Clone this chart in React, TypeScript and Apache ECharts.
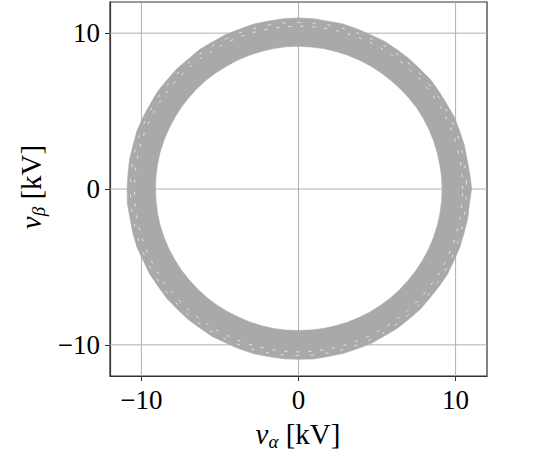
import { useEffect, useRef } from "react";
import * as echarts from "echarts";

// Axis extent and tick positions (kV)
const AXIS_MIN = -12;
const AXIS_MAX = 12;
const TICK_VALUES = [-10, 0, 10];

// Outer boundary of the trajectory band, radius (kV) every 5 degrees starting at 0°
const OUTER_STEP_DEG = 5;
const OUTER_RADIUS = [
  11.02, 10.95, 10.9, 10.93, 10.91, 10.94, 10.9, 10.92, 10.95, 10.91, 10.93, 10.92,
  10.95, 10.91, 10.93, 10.96, 10.93, 10.97, 10.98, 10.97, 10.94, 10.96, 10.92, 10.94,
  10.91, 10.94, 10.9, 10.93, 10.91, 10.94, 10.9, 10.92, 10.94, 10.9, 10.92, 10.9,
  10.91, 10.93, 10.89, 10.92, 10.94, 10.9, 10.93, 10.9, 10.94, 10.91, 10.93, 10.91,
  10.94, 10.91, 10.93, 10.95, 10.92, 10.94, 10.93, 10.95, 10.91, 10.93, 10.91, 10.94,
  10.9, 10.93, 10.91, 10.94, 10.9, 10.92, 10.95, 10.91, 10.93, 10.91, 10.94, 10.92,
];

// Inner boundary of the band, radius (kV) every 5 degrees starting at 0°
const INNER_STEP_DEG = 5;
const INNER_RADIUS = [
  9.14, 9.14, 9.13, 9.13, 9.14, 9.14, 9.15, 9.15, 9.13, 9.13, 9.12, 9.12,
  9.13, 9.13, 9.14, 9.14, 9.15, 9.15, 9.16, 9.16, 9.15, 9.14, 9.13, 9.13,
  9.12, 9.12, 9.13, 9.13, 9.12, 9.12, 9.11, 9.11, 9.12, 9.12, 9.11, 9.11,
  9.1, 9.1, 9.11, 9.11, 9.1, 9.1, 9.09, 9.09, 9.08, 9.08, 9.08, 9.08,
  9.07, 9.07, 9.08, 9.08, 9.09, 9.09, 9.08, 9.08, 9.09, 9.09, 9.1, 9.1,
  9.11, 9.11, 9.12, 9.12, 9.12, 9.12, 9.13, 9.13, 9.14, 9.14, 9.14, 9.14,
];

// Faint gaps between overlapping trajectories (radius, kV)
const STREAK_RADII = [10.45, 10.7];
const STREAK_STEP_DEG = 5;
const STREAK_COUNT = 73;

const RING_COLOR = "#a9a9a9";
const GRID_COLOR = "#b0b0b0";
const SPINE_COLOR = "#333333";
const FONT = "Liberation Serif";

function polar(r: number, deg: number): [number, number] {
  const a = (deg * Math.PI) / 180;
  return [r * Math.cos(a), r * Math.sin(a)];
}

function fmt(v: number): string {
  return v < 0 ? "\u2212" + Math.abs(v) : String(v);
}

export default function App() {
  const ref = useRef<HTMLDivElement>(null);

  useEffect(() => {
    if (!ref.current) return;
    const chart = echarts.init(ref.current, undefined, { renderer: "svg" });

    const renderItem = (_params: any, api: any) => {
      const children: any[] = [];
      TICK_VALUES.forEach((t) => {
        const a = api.coord([t, AXIS_MIN]);
        const b = api.coord([t, AXIS_MAX]);
        children.push({
          type: "line",
          shape: { x1: a[0], y1: a[1], x2: b[0], y2: b[1] },
          style: { stroke: GRID_COLOR, lineWidth: 1 },
        });
        const c = api.coord([AXIS_MIN, t]);
        const d = api.coord([AXIS_MAX, t]);
        children.push({
          type: "line",
          shape: { x1: c[0], y1: c[1], x2: d[0], y2: d[1] },
          style: { stroke: GRID_COLOR, lineWidth: 1 },
        });
      });
      const outer = OUTER_RADIUS.map((r, i) => api.coord(polar(r, i * OUTER_STEP_DEG)));
      const inner = INNER_RADIUS.map((r, i) => api.coord(polar(r, i * INNER_STEP_DEG))).reverse();
      const seg = (pts: number[][]) =>
        "M" + pts.map((p) => p[0].toFixed(2) + " " + p[1].toFixed(2)).join(" L") + " Z";
      children.push({
        type: "path",
        shape: { pathData: seg(outer) + " " + seg(inner) },
        style: { fill: RING_COLOR, stroke: RING_COLOR, lineWidth: 0.6 },
      });
      STREAK_RADII.forEach((r, k) => {
        const pts: number[][] = [];
        for (let i = 0; i < STREAK_COUNT; i++) pts.push(api.coord(polar(r, i * STREAK_STEP_DEG + k * 2)));
        children.push({
          type: "polyline",
          shape: { points: pts },
          style: {
            stroke: "#f2f2f2",
            lineWidth: 0.8,
            fill: "none",
            lineDash: [3, 9 + k * 3],
            opacity: 1,
          },
        });
      });
      return { type: "group", children };
    };

    const axisCommon = {
      type: "value" as const,
      min: AXIS_MIN,
      max: AXIS_MAX,
      splitNumber: 2,
      splitLine: { show: false },
      axisLine: { show: true, onZero: false, lineStyle: { color: SPINE_COLOR, width: 1.2 } },
      axisTick: {
        show: true,
        inside: false,
        length: 5,
        customValues: TICK_VALUES,
        lineStyle: { color: SPINE_COLOR, width: 1 },
      },
      axisLabel: {
        customValues: TICK_VALUES,
        formatter: (v: number) => fmt(v),
        fontFamily: FONT,
        fontSize: 27,
        color: "#000",
        margin: 10,
      },
    };

    const richBase = {
      v: { fontFamily: FONT, fontStyle: "italic", fontSize: 29, lineHeight: 34, fill: "#000" },
      s: {
        fontFamily: FONT,
        fontStyle: "italic",
        fontSize: 19,
        lineHeight: 20,
        verticalAlign: "bottom",
        fill: "#000",
      },
      n: { fontFamily: FONT, fontSize: 29, lineHeight: 34, fill: "#000" },
    };

    chart.setOption({
      animation: false,
      backgroundColor: "#ffffff",
      grid: {
        left: 110,
        right: 56,
        top: 2,
        bottom: 80,
        show: true,
        borderColor: SPINE_COLOR,
        borderWidth: 1.2,
        backgroundColor: "transparent",
      },
      xAxis: { ...axisCommon },
      yAxis: { ...axisCommon },
      series: [
        {
          type: "custom",
          coordinateSystem: "cartesian2d",
          silent: true,
          data: [[0, 0]],
          renderItem,
        },
      ],
      graphic: [
        {
          type: "text",
          x: 298,
          y: 434,
          style: {
            text: "{v|v}{s|\u03b1}{n| [kV]}",
            align: "center",
            verticalAlign: "middle",
            rich: richBase,
          },
        },
        {
          type: "text",
          x: 31,
          y: 187,
          rotation: Math.PI / 2,
          style: {
            text: "{v|v}{s|\u03b2}{n| [kV]}",
            align: "center",
            verticalAlign: "middle",
            rich: richBase,
          },
        },
      ],
    });

    return () => chart.dispose();
  }, []);

  return (
    <div
      ref={ref}
      style={{ position: "fixed", left: 0, top: 0, width: 543, height: 456, background: "#fff" }}
    />
  );
}
